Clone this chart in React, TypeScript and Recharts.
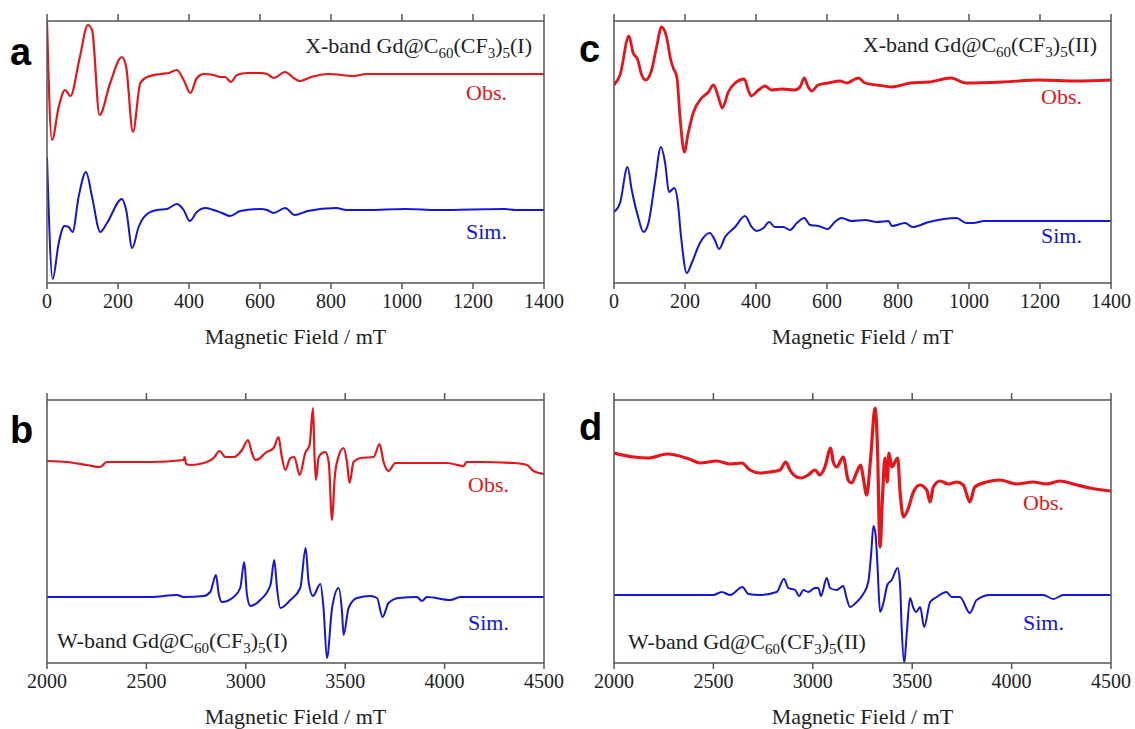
import React from 'react';
import { LineChart, Line, XAxis, YAxis } from 'recharts';

// ---------- data (field in mT, intensity in arbitrary units incl. vertical offset) ----------
const X_TICKS = [0, 200, 400, 600, 800, 1000, 1200, 1400];
const W_TICKS = [2000, 2500, 3000, 3500, 4000, 4500];

const A_OBS: [number, number][] = [
  [0, 261], [14, 143], [33, 176], [51, 193], [66, 187], [92, 225], [115, 258], [127, 253],
  [148, 168], [178, 200], [211, 226], [223, 216], [242, 151], [263, 200], [282, 206],
  [319, 209], [343, 210], [366, 213], [385, 203], [404, 190], [422, 205], [441, 209],
  [469, 208], [488, 206], [502, 206], [518, 201], [535, 208], [563, 210], [601, 210],
  [620, 209], [638, 205], [671, 211], [695, 205], [713, 202], [744, 206], [794, 209],
  [864, 207], [900, 209], [1000, 209], [1100, 209], [1200, 209], [1300, 209], [1400, 209],
];
const A_SIM: [number, number][] = [
  [0, 126], [16, 4], [33, 40], [49, 57], [61, 56], [72, 51], [89, 86], [110, 111], [127, 86],
  [150, 51], [169, 60], [211, 84], [223, 73], [240, 35], [258, 56], [282, 69], [310, 73],
  [338, 74], [366, 79], [385, 73], [402, 62], [422, 71], [446, 75], [469, 73], [493, 70],
  [516, 67], [544, 72], [601, 74], [620, 73], [638, 70], [671, 75], [698, 68], [734, 72],
  [814, 75], [844, 73], [900, 73], [1010, 74], [1100, 73], [1290, 74], [1320, 73], [1400, 73],
];
const C_OBS: [number, number][] = [
  [0, 198], [17, 208], [42, 247], [54, 230], [66, 224], [78, 208], [89, 203], [106, 213],
  [120, 236], [134, 256], [148, 246], [160, 223], [167, 215], [177, 206], [186, 166],
  [198, 131], [209, 150], [223, 170], [247, 185], [266, 191], [280, 198], [294, 186],
  [305, 175], [322, 191], [341, 200], [367, 204], [378, 193], [386, 187], [407, 193],
  [425, 197], [444, 193], [472, 194], [510, 193], [524, 196], [536, 205], [547, 196],
  [557, 192], [575, 198], [604, 200], [637, 202], [655, 200], [688, 205], [707, 200],
  [741, 198], [783, 196], [835, 200], [887, 201], [949, 205], [991, 200], [1095, 201],
  [1198, 203], [1302, 202], [1400, 203],
];
const C_SIM: [number, number][] = [
  [0, 71], [17, 80], [38, 116], [50, 93], [68, 66], [83, 51], [97, 60], [115, 100], [132, 136],
  [144, 120], [155, 91], [170, 95], [179, 83], [189, 46], [205, 10], [219, 20], [242, 40],
  [270, 50], [284, 43], [296, 34], [313, 46], [341, 56], [369, 67], [388, 56], [402, 52],
  [421, 55], [437, 61], [453, 56], [477, 56], [496, 53], [515, 60], [536, 65], [552, 58],
  [576, 57], [602, 54], [622, 61], [641, 65], [669, 62], [707, 63], [741, 61], [773, 62],
  [783, 57], [820, 60], [841, 56], [887, 61], [965, 65], [992, 60], [1012, 60], [1043, 62],
  [1100, 62], [1400, 62],
];
const B_OBS: [number, number][] = [
  [2000, 202], [2100, 201], [2200, 198], [2268, 196], [2300, 201], [2400, 201], [2520, 201],
  [2687, 203], [2692, 206], [2700, 199], [2721, 198], [2788, 200], [2838, 205], [2868, 212],
  [2897, 206], [2939, 206], [2981, 213], [3011, 223], [3031, 210], [3048, 203], [3073, 205],
  [3098, 210], [3140, 215], [3165, 226], [3178, 210], [3199, 193], [3224, 205], [3244, 206],
  [3271, 188], [3299, 210], [3321, 218], [3338, 255], [3346, 205], [3353, 183], [3366, 205],
  [3383, 210], [3400, 211], [3417, 201], [3434, 143], [3447, 185], [3464, 205], [3492, 215],
  [3509, 201], [3522, 180], [3542, 201], [3576, 205], [3643, 206], [3673, 219], [3693, 201],
  [3718, 192], [3752, 200], [3844, 200], [4012, 200], [4096, 197], [4110, 201], [4180, 201],
  [4347, 200], [4414, 198], [4448, 192], [4500, 189],
];
const B_SIM: [number, number][] = [
  [2000, 66], [2520, 66], [2654, 68], [2687, 66], [2788, 67], [2821, 71], [2850, 88],
  [2863, 70], [2880, 61], [2939, 66], [2972, 75], [2992, 101], [3006, 68], [3023, 57],
  [3073, 63], [3124, 78], [3143, 103], [3157, 75], [3174, 55], [3224, 63], [3274, 75],
  [3301, 115], [3316, 81], [3338, 67], [3375, 79], [3391, 55], [3408, 5], [3434, 55],
  [3467, 75], [3484, 51], [3492, 28], [3517, 55], [3559, 65], [3626, 67], [3660, 65],
  [3688, 46], [3718, 60], [3769, 65], [3861, 66], [3886, 62], [3911, 66], [4029, 63],
  [4079, 66], [4500, 66],
];
const D_OBS: [number, number][] = [
  [2000, 210], [2100, 206], [2174, 205], [2267, 209], [2378, 204], [2433, 200], [2517, 202],
  [2584, 199], [2643, 200], [2684, 193], [2734, 190], [2785, 191], [2835, 193], [2864, 201],
  [2885, 193], [2919, 186], [2944, 185], [2977, 188], [3011, 193], [3036, 188], [3061, 196],
  [3090, 215], [3103, 201], [3120, 196], [3153, 206], [3178, 183], [3195, 180], [3221, 191],
  [3241, 198], [3254, 185], [3271, 168], [3291, 205], [3313, 255], [3325, 218], [3338, 116],
  [3351, 168], [3363, 205], [3375, 181], [3383, 210], [3397, 196], [3427, 205], [3439, 171],
  [3456, 146], [3481, 155], [3506, 171], [3539, 178], [3573, 173], [3590, 161], [3606, 176],
  [3640, 182], [3682, 179], [3724, 181], [3757, 178], [3790, 161], [3815, 176], [3874, 181],
  [3941, 183], [4025, 179], [4109, 181], [4176, 179], [4243, 182], [4310, 179], [4394, 175],
  [4500, 172],
];
const D_SIM: [number, number][] = [
  [2000, 68], [2500, 68], [2542, 71], [2584, 68], [2646, 76], [2676, 69], [2734, 68],
  [2818, 71], [2855, 84], [2877, 75], [2911, 73], [2932, 67], [2952, 73], [2977, 71],
  [3011, 75], [3028, 75], [3041, 67], [3070, 85], [3087, 75], [3120, 73], [3153, 77],
  [3170, 65], [3187, 56], [3221, 61], [3254, 69], [3279, 81], [3293, 108], [3305, 137],
  [3316, 128], [3326, 95], [3338, 51], [3355, 60], [3375, 78], [3397, 83], [3427, 95],
  [3439, 78], [3447, 35], [3460, 0], [3472, 28], [3489, 65], [3506, 55], [3520, 51],
  [3540, 56], [3560, 36], [3590, 61], [3623, 66], [3673, 71], [3698, 66], [3740, 66],
  [3790, 50], [3824, 63], [3891, 68], [4159, 68], [4210, 64], [4260, 68], [4500, 68],
];

// ---------- styling ----------
const RED = '#e8141a';
const BLUE = '#1414e0';
const AXIS = '#555';
const TEXT = '#222';
const SERIF = '"Liberation Serif", "Times New Roman", serif';
const SANS = '"Liberation Sans", Arial, sans-serif';
const LINE_STYLE = { stroke: AXIS, strokeWidth: 1.5 };

const toPts = (arr: [number, number][]) => arr.map(([x, y]) => ({ x, y }));

function BottomTick(props: any) {
  const { x, y, payload } = props;
  return (
    <g>
      <line x1={x} x2={x} y1={y} y2={y + 6} stroke={AXIS} strokeWidth={1.5} />
      <text x={x} y={y + 11} dy="0.71em" textAnchor="middle" fill={TEXT} fontSize={20} fontFamily={SERIF}>
        {payload.value}
      </text>
    </g>
  );
}

function TopTick(props: any) {
  const { x, y } = props;
  return <line x1={x} x2={x} y1={y} y2={y - 7} stroke={AXIS} strokeWidth={1.5} />;
}

type PanelProps = {
  left: number; top: number; width: number; height: number;
  margin: { top: number; right: number; bottom: number; left: number };
  domain: [number, number]; ticks: number[];
  obs: [number, number][]; sim: [number, number][];
  yMax: number; obsWidth: number;
};

function Panel(p: PanelProps) {
  return (
    <div style={{ position: 'absolute', left: p.left, top: p.top }}>
      <LineChart width={p.width} height={p.height} margin={p.margin}>
        <XAxis
          type="number" dataKey="x" domain={p.domain} ticks={p.ticks} interval={0}
          allowDataOverflow tickSize={0} tickMargin={0}
          axisLine={LINE_STYLE} tickLine={false}
          tick={<BottomTick />} height={62}
          label={{ value: 'Magnetic Field / mT', position: 'insideBottom', offset: 1, fill: TEXT, fontSize: 22, fontFamily: SERIF }}
        />
        <XAxis
          xAxisId="top" orientation="top" type="number" dataKey="x" domain={p.domain} ticks={p.ticks}
          interval={0} allowDataOverflow tick={<TopTick />} tickSize={0} tickMargin={0}
          axisLine={LINE_STYLE} tickLine={false} height={1}
        />
        <YAxis type="number" dataKey="y" domain={[0, p.yMax]} allowDataOverflow tick={false}
          tickLine={false} axisLine={LINE_STYLE} width={1} />
        <YAxis yAxisId="right" orientation="right" type="number" dataKey="y" domain={[0, p.yMax]} allowDataOverflow
          tick={false} tickLine={false} axisLine={LINE_STYLE} width={1} />
        <Line data={toPts(p.obs)} dataKey="y" type="monotone" stroke={RED} strokeWidth={p.obsWidth}
          dot={false} isAnimationActive={false} />
        <Line data={toPts(p.sim)} dataKey="y" type="monotone" stroke={BLUE} strokeWidth={2}
          dot={false} isAnimationActive={false} />
      </LineChart>
    </div>
  );
}

function Formula({ x, y, anchor, prefix, suffix }: { x: number; y: number; anchor: 'start' | 'end'; prefix: string; suffix: string }) {
  return (
    <text x={x} y={y} textAnchor={anchor} fontSize={22} fontFamily={SERIF} fill={TEXT}>
      {prefix} Gd@C<tspan fontSize={15} dy={5}>60</tspan>
      <tspan dy={-5}>(CF</tspan><tspan fontSize={15} dy={5}>3</tspan>
      <tspan dy={-5}>)</tspan><tspan fontSize={15} dy={5}>5</tspan>
      <tspan dy={-5}>{suffix}</tspan>
    </text>
  );
}

export default function App() {
  return (
    <div style={{ position: 'absolute', left: 0, top: 0, width: 1135, height: 729, background: '#fff', overflow: 'hidden' }}>
      <Panel left={0} top={0} width={567} height={380} margin={{ top: 20, right: 22, bottom: 35, left: 46 }}
        domain={[0, 1400]} ticks={X_TICKS} obs={A_OBS} sim={A_SIM} yMax={262} obsWidth={2.2} />
      <Panel left={567} top={0} width={568} height={380} margin={{ top: 20, right: 23, bottom: 35, left: 46 }}
        domain={[0, 1400]} ticks={X_TICKS} obs={C_OBS} sim={C_SIM} yMax={262} obsWidth={2.8} />
      <Panel left={0} top={380} width={567} height={349} margin={{ top: 19, right: 22, bottom: 4, left: 46 }}
        domain={[2000, 4500]} ticks={W_TICKS} obs={B_OBS} sim={B_SIM} yMax={263} obsWidth={2.2} />
      <Panel left={567} top={380} width={568} height={349} margin={{ top: 19, right: 23, bottom: 4, left: 46 }}
        domain={[2000, 4500]} ticks={W_TICKS} obs={D_OBS} sim={D_SIM} yMax={263} obsWidth={3.2} />
      <svg width={1135} height={729} style={{ position: 'absolute', left: 0, top: 0, pointerEvents: 'none' }}>
        <text x={10} y={65} fontSize={38} fontWeight="bold" fontFamily={SANS} fill="#000">a</text>
        <text x={10} y={443} fontSize={38} fontWeight="bold" fontFamily={SANS} fill="#000">b</text>
        <text x={579} y={62} fontSize={38} fontWeight="bold" fontFamily={SANS} fill="#000">c</text>
        <text x={579} y={440} fontSize={38} fontWeight="bold" fontFamily={SANS} fill="#000">d</text>
        <Formula x={532} y={53} anchor="end" prefix="X-band" suffix="(I)" />
        <Formula x={1097} y={52} anchor="end" prefix="X-band" suffix="(II)" />
        <Formula x={57} y={648} anchor="start" prefix="W-band" suffix="(I)" />
        <Formula x={628} y={649} anchor="start" prefix="W-band" suffix="(II)" />
        <text x={466} y={100} fontSize={22} fontFamily={SERIF} fill={RED}>Obs.</text>
        <text x={466} y={239} fontSize={22} fontFamily={SERIF} fill={BLUE}>Sim.</text>
        <text x={1041} y={104} fontSize={22} fontFamily={SERIF} fill={RED}>Obs.</text>
        <text x={1041} y={243} fontSize={22} fontFamily={SERIF} fill={BLUE}>Sim.</text>
        <text x={468} y={492} fontSize={22} fontFamily={SERIF} fill={RED}>Obs.</text>
        <text x={468} y={630} fontSize={22} fontFamily={SERIF} fill={BLUE}>Sim.</text>
        <text x={1023} y={510} fontSize={22} fontFamily={SERIF} fill={RED}>Obs.</text>
        <text x={1023} y={630} fontSize={22} fontFamily={SERIF} fill={BLUE}>Sim.</text>
      </svg>
    </div>
  );
}
